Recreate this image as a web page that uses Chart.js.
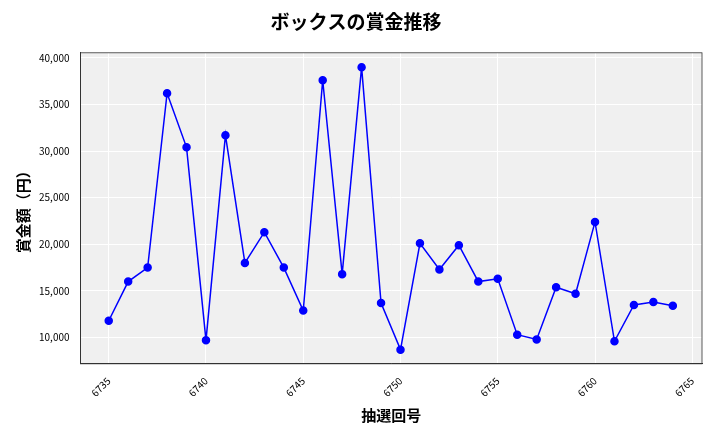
<!DOCTYPE html>
<html><head><meta charset="utf-8">
<script src="https://cdn.jsdelivr.net/npm/chart.js@4"></script>
<style>body{margin:0;background:#fff}#wrap{width:720px;height:432px}</style>
</head><body><div id="wrap"><canvas id="c"></canvas></div>
<script>
const draws = [6735,6736,6737,6738,6739,6740,6741,6742,6743,6744,6745,6746,6747,6748,6749,6750,6751,6752,6753,6754,6755,6756,6757,6758,6759,6760,6761,6762,6763,6764];
const prizes = [11800,16000,17500,36200,30400,9700,31700,18000,21300,17500,12900,37600,16800,39000,13700,8700,20100,17300,19900,16000,16300,10300,9800,15400,14700,22400,9600,13500,13800,13400];

const font = "'Noto Sans CJK JP', 'Noto Sans', sans-serif";
const bgPlugin = {
  id: 'bg',
  beforeDraw(chart) {
    const a = chart.chartArea, ctx = chart.ctx;
    ctx.save();
    ctx.fillStyle = '#f0f0f0';
    ctx.fillRect(a.left, a.top, a.right - a.left, a.bottom - a.top);
    ctx.restore();
  },
  afterDraw(chart) {
    const a = chart.chartArea, ctx = chart.ctx;
    ctx.save();
    ctx.strokeStyle = '#333';
    ctx.lineWidth = 0.8;
    ctx.strokeRect(a.left, a.top, a.right - a.left, a.bottom - a.top);
    ctx.restore();
  }
};

new Chart(document.getElementById('c'), {
  type: 'line',
  data: {
    datasets: [{
      data: draws.map((d, i) => ({ x: d, y: prizes[i] })),
      borderColor: '#0000ff',
      backgroundColor: '#0000ff',
      borderWidth: 1.5,
      pointRadius: 3.5,
      tension: 0
    }]
  },
  options: {
    responsive: true,
    maintainAspectRatio: false,
    animation: false,
    layout: { padding: { left: 10, right: 18, top: 0, bottom: 4 } },
    plugins: {
      legend: { display: false },
      title: { display: true, text: 'ボックスの賞金推移', color: '#000', font: { family: font, size: 19, weight: 'bold' }, padding: { top: 10, bottom: 20 } }
    },
    scales: {
      x: {
        type: 'linear', min: 6733.55, max: 6765.5,
        afterBuildTicks(s) { s.ticks = [6735,6740,6745,6750,6755,6760,6765].map(v => ({ value: v })); },
        grid: { color: '#ffffff', lineWidth: 1 },
        border: { color: '#333' },
        ticks: { color: '#000', maxRotation: 45, minRotation: 45, font: { family: font, size: 10 }, callback: v => String(v) },
        title: { display: true, text: '抽選回号', color: '#000', font: { family: font, size: 15, weight: 'bold' } }
      },
      y: {
        min: 7180, max: 40540,
        afterBuildTicks(s) { s.ticks = [10000,15000,20000,25000,30000,35000,40000].map(v => ({ value: v })); },
        grid: { color: '#ffffff', lineWidth: 1 },
        border: { color: '#333' },
        ticks: { color: '#000', font: { family: font, size: 10 }, callback: v => v.toLocaleString('en-US') },
        title: { display: true, text: '賞金額（円）', color: '#000', font: { family: font, size: 15, weight: 'bold' } }
      }
    }
  },
  plugins: [bgPlugin]
});
</script></body></html>
